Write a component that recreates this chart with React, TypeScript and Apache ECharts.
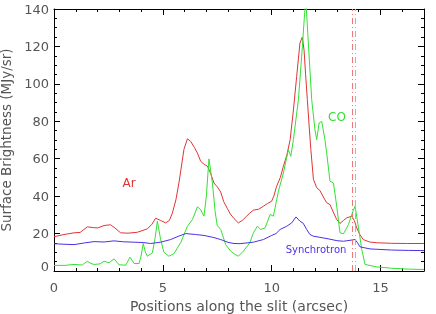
import React, { useEffect, useRef } from "react";
import * as echarts from "echarts";

const arX = [0, 0.46, 0.92, 1.2, 1.53, 1.8, 2.0, 2.3, 2.6, 2.8, 3.06, 3.4, 3.83, 4.29, 4.5, 4.67, 4.9, 5.13, 5.3, 5.44, 5.6, 5.74, 5.97, 6.13, 6.28, 6.45, 6.59, 6.74, 6.9, 7.05, 7.2, 7.35, 7.5, 7.66, 7.8, 7.96, 8.1, 8.27, 8.47, 8.65, 8.85, 9.0, 9.16, 9.4, 9.62, 9.8, 10.0, 10.1, 10.23, 10.4, 10.54, 10.7, 10.85, 11.0, 11.15, 11.3, 11.41, 11.49, 11.56, 11.64, 11.72, 11.8, 11.92, 12.07, 12.22, 12.4, 12.53, 12.68, 12.85, 12.99, 13.14, 13.3, 13.45, 13.68, 13.8, 13.91, 14.05, 14.21, 14.5, 14.83, 15.5, 16.2, 17];
const arY = [18.3, 19.5, 20.4, 20.6, 23.6, 23.2, 23, 24.3, 24.7, 23, 20.4, 20.2, 20.7, 22.5, 25, 28.2, 27, 25.7, 27, 31, 38, 47, 65, 70.6, 69.3, 66, 63, 58.6, 57, 56, 52, 47, 45, 42.2, 37, 33.5, 30.5, 28, 25.7, 27, 29.3, 31, 32.5, 33, 34.6, 36, 37.3, 40, 45.3, 50, 56, 62, 70.2, 86, 104, 121.8, 125, 118, 105, 91.6, 78, 65, 49, 44.5, 43, 39, 36.5, 35.5, 31, 27.5, 25.4, 27, 28.4, 29.3, 27, 23, 19.5, 16.8, 15.5, 15.1, 14.8, 14.7, 14.7];

const synX = [0, 0.46, 0.92, 1.4, 1.84, 2.3, 2.76, 3.2, 3.68, 4.1, 4.44, 4.9, 5.36, 5.7, 6.05, 6.5, 6.89, 7.3, 7.66, 8.0, 8.27, 8.55, 9.16, 9.62, 10.0, 10.2, 10.39, 10.69, 10.92, 11.12, 11.3, 11.45, 11.61, 11.76, 11.92, 12.22, 12.68, 13.0, 13.3, 13.6, 13.83, 13.95, 14.06, 14.52, 15.5, 16.3, 17];
const synY = [14.6, 14.3, 14.1, 15, 15.7, 15.5, 16.1, 15.6, 15.4, 15.2, 14.7, 15.4, 16.8, 18.5, 20, 19.5, 19, 18, 16.8, 15.3, 14.7, 14.6, 15.4, 16.8, 19, 20, 22.2, 23.9, 25.7, 28.9, 26.6, 25.5, 22.2, 19.5, 18.6, 18, 17, 16.2, 15.9, 16.4, 16.8, 15, 12.9, 11.8, 11.2, 11, 10.9];

const coX = [0, 0.5, 0.92, 1.3, 1.53, 1.7, 1.84, 2.1, 2.3, 2.53, 2.76, 2.99, 3.3, 3.49, 3.68, 3.91, 4.0, 4.1, 4.2, 4.29, 4.52, 4.65, 4.75, 4.9, 5.05, 5.28, 5.51, 5.82, 6.13, 6.36, 6.59, 6.74, 6.89, 7.0, 7.12, 7.28, 7.4, 7.5, 7.66, 7.89, 8.12, 8.3, 8.47, 8.7, 9.0, 9.16, 9.34, 9.5, 9.7, 9.93, 10.08, 10.31, 10.54, 10.77, 10.88, 11.0, 11.23, 11.38, 11.5, 11.57, 11.66, 11.84, 11.99, 12.07, 12.18, 12.3, 12.45, 12.53, 12.68, 12.84, 12.99, 13.14, 13.3, 13.53, 13.68, 13.83, 13.98, 14.14, 14.29, 14.83, 15.5, 16.3, 17];
const coY = [3.0, 3.0, 3.5, 3.2, 5.2, 4.0, 3.5, 3.8, 5.2, 4.4, 6.5, 3.3, 3.1, 7.4, 4, 4, 8, 14.7, 10, 7.9, 9.7, 18, 26.6, 16.8, 10, 7.9, 9.3, 15.1, 23.9, 27.5, 34.3, 32.8, 29.3, 40, 59.9, 47, 32, 24.3, 22.2, 14.1, 10.6, 9, 7.9, 10.6, 15.1, 20.4, 23.9, 22.2, 23, 30.2, 29.3, 42.6, 52.4, 64.9, 61.3, 70.2, 91.6, 114.7, 135, 145, 127, 91.6, 75.5, 70.2, 79.1, 80, 70, 63, 48, 47, 34.6, 20.4, 19.9, 24.8, 30.2, 34.6, 23.9, 11.5, 3.5, 2.2, 1.5, 1.0, 0.8];

const arLineX = 13.71;
const coLineX = 13.86;

const RED = "#e03434";
const GREEN = "#34e034";
const BLUE = "#4a30e6";
const FONT = "DejaVu Sans";

const pairs = (xs: number[], ys: number[]) => xs.map((x, i) => [x, ys[i]]);

export default function App() {
  const ref = useRef<HTMLDivElement>(null);
  useEffect(() => {
    if (!ref.current) return;
    const chart = echarts.init(ref.current, undefined, { renderer: "svg" });
    const axisCommon = {
      axisLine: { show: true, onZero: false, lineStyle: { color: "#000", width: 1 } },
      axisTick: { show: true, inside: true, length: 6, lineStyle: { color: "#000" } },
      minorTick: { show: true, length: 3, lineStyle: { color: "#000" } },
      splitLine: { show: false },
    };
    chart.setOption({
      animation: false,
      grid: { left: 54, top: 9, right: 12, bottom: 43, containLabel: false, outerBoundsMode: "none" },
      xAxis: [
        {
          type: "value", min: 0, max: 17, interval: 5, position: "bottom",
          ...axisCommon,
          minorTick: { ...axisCommon.minorTick, splitNumber: 5 },
          axisLabel: { color: "#555", fontFamily: FONT, fontSize: 13, margin: 10, showMaxLabel: false },
          name: "Positions along the slit (arcsec)", nameLocation: "middle", nameGap: 17,
          nameTextStyle: { color: "#555", fontFamily: FONT, fontSize: 14, lineHeight: 15 },
        },
        {
          type: "value", min: 0, max: 17, interval: 5, position: "top",
          ...axisCommon,
          minorTick: { ...axisCommon.minorTick, splitNumber: 5 },
          axisLabel: { show: false },
        },
      ],
      yAxis: [
        {
          type: "value", min: 0, max: 140, interval: 20, position: "left",
          ...axisCommon,
          minorTick: { ...axisCommon.minorTick, splitNumber: 4 },
          axisLabel: {
            color: "#555", fontFamily: FONT, fontSize: 13, margin: 5,
            formatter: (v: number) => (v === 0 ? "{z|0}" : String(v)),
            rich: { z: { color: "#555", fontFamily: FONT, fontSize: 13, padding: [0, 0, 9, 0] } },
          },
          name: "Surface Brightness (MJy/sr)", nameLocation: "middle", nameGap: 35,
          nameTextStyle: { color: "#555", fontFamily: FONT, fontSize: 13.5, lineHeight: 14 },
        },
        {
          type: "value", min: 0, max: 140, interval: 20, position: "right",
          ...axisCommon,
          minorTick: { ...axisCommon.minorTick, splitNumber: 4 },
          axisLabel: { show: false },
        },
      ],
      series: [
        {
          type: "line", data: pairs(arX, arY), showSymbol: false, symbol: "none",
          lineStyle: { color: RED, width: 1 }, silent: true, clip: true,
          markLine: {
            silent: true, symbol: "none", label: { show: false },
            lineStyle: { color: "#ee7777", width: 1, type: [6, 3, 1, 3] },
            data: [{ xAxis: arLineX }],
          },
        },
        {
          type: "line", data: pairs(coX, coY), showSymbol: false, symbol: "none",
          lineStyle: { color: GREEN, width: 1 }, silent: true, clip: true,
          markLine: {
            silent: true, symbol: "none", label: { show: false },
            lineStyle: { color: "#77e077", width: 1, type: [6, 3, 1, 3] },
            data: [{ xAxis: coLineX }],
          },
        },
        {
          type: "line", data: pairs(synX, synY), showSymbol: false, symbol: "none",
          lineStyle: { color: BLUE, width: 1 }, silent: true, clip: true,
        },
      ],
      graphic: [
        { type: "text", x: 129, y: 183, style: { text: "Ar", fill: RED, font: `12px '${FONT}'`, align: "center", verticalAlign: "middle" } },
        { type: "text", x: 337, y: 117, style: { text: "CO", fill: GREEN, font: `12px '${FONT}'`, align: "center", verticalAlign: "middle" } },
        { type: "text", x: 316, y: 249, style: { text: "Synchrotron", fill: BLUE, font: `10px '${FONT}'`, align: "center", verticalAlign: "middle" } },
      ],
    });
    return () => chart.dispose();
  }, []);
  return <div ref={ref} style={{ position: "fixed", left: 0, top: 0, width: 436, height: 314 }} />;
}
